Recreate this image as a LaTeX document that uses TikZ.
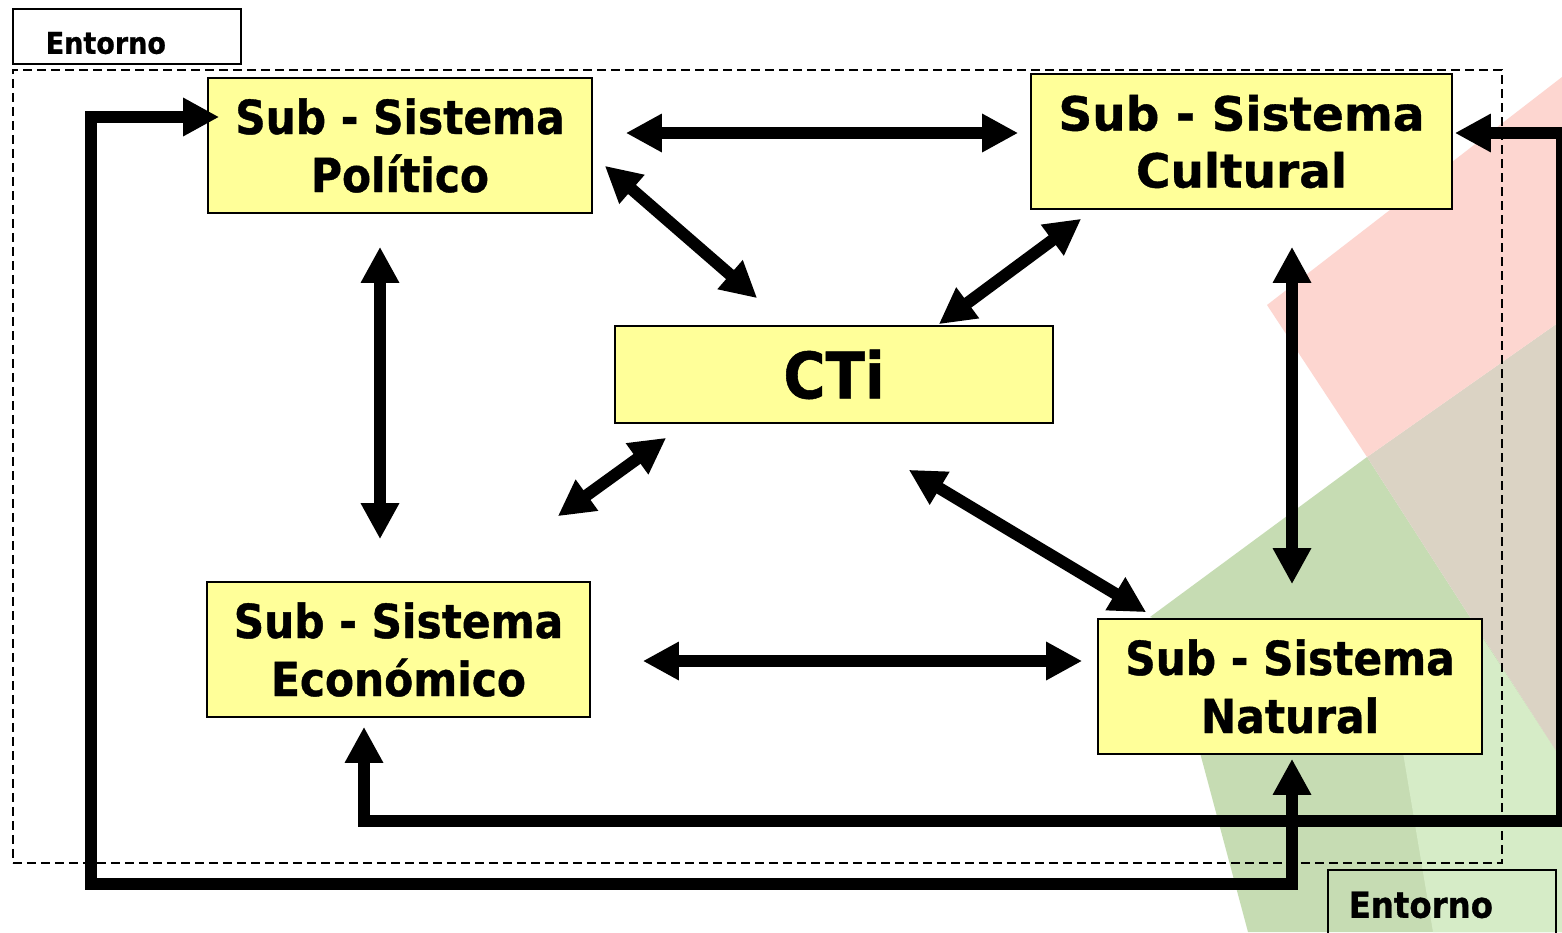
\documentclass[tikz,border=0pt]{standalone}
\usepackage{fontspec}
\newfontfamily\verd{DejaVu Sans}[FakeBold=0.8]
\newfontfamily\tah{DejaVu Sans}[FakeStretch=0.9,FakeBold=0.8]
\usetikzlibrary{arrows.meta}
\definecolor{boxfill}{HTML}{FFFF99}
\definecolor{bgpink}{HTML}{FDD6D0}
\definecolor{bgbrown}{HTML}{DBD3C4}
\definecolor{bgdgreen}{HTML}{C6DCB3}
\definecolor{bglgreen}{HTML}{D6ECC7}
\begin{document}
\begin{tikzpicture}[x=1pt,y=-1pt,
  sbox/.style={draw=black, line width=1.6pt, fill=boxfill, align=center, inner sep=0pt},
  tfont/.style={font=\tah\bfseries\fontsize{47}{58}\selectfont},
  vfont/.style={font=\verd\bfseries\fontsize{47}{57}\selectfont},
  envbox/.style={draw=black, line width=1.5pt, anchor=north west, inner sep=0pt, align=left, text width=228pt},
  arr/.style={line width=12pt, {Triangle[length=36pt,width=36pt]}-{Triangle[length=36pt,width=36pt]}},
]
\useasboundingbox (0,0) rectangle (1562,932);
\clip (0,0) rectangle (1562,932);
\fill[white] (0,0) rectangle (1562,932);

% background logo shapes
\fill[bgdgreen] (1150,617) -- (1367,457) -- (1562,760) -- (1562,932) -- (1248,932) -- (1165,622) -- cycle;
\fill[bglgreen] (1395,705) -- (1480,634) -- (1562,760) -- (1562,932) -- (1433,932) -- cycle;
\fill[bgbrown] (1367,457) -- (1562,320) -- (1562,760) -- cycle;
\fill[bgpink] (1267,305) -- (1562,77) -- (1562,320) -- (1367,457) -- cycle;

% environment
\node[draw=black, line width=1.5pt, dash pattern=on 9pt off 5pt, anchor=north west,
      minimum width=1489pt, minimum height=793pt, inner sep=0pt] (env) at (12,69) {};
\node[envbox, minimum height=55pt, text height=35pt, text depth=0pt,
      font=\tah\bfseries\fontsize{30}{36}\selectfont] (ent1) at (12,8) {\hspace*{33pt}Entorno};
\node[envbox, minimum height=76pt, text height=20pt, text depth=0pt,
      font=\tah\bfseries\fontsize{36}{42}\selectfont] (ent2) at (1327,869) {\hspace*{21pt}Entorno};

% subsystems
\node[sbox, tfont, minimum width=384pt, minimum height=135pt] (pol) at (400,145.5) {Sub - Sistema\\Político};
\node[sbox, vfont, minimum width=421pt, minimum height=135pt] (cul) at (1241.5,141.5) {Sub - Sistema\\Cultural};
\node[sbox, tfont, minimum width=383pt, minimum height=135pt] (eco) at (398.5,649.5) {Sub - Sistema\\Económico};
\node[sbox, tfont, minimum width=384pt, minimum height=135pt] (nat) at (1290,686.5) {Sub - Sistema\\Natural};
\node[sbox, font=\tah\bfseries\fontsize{64}{70}\selectfont, minimum width=438pt, minimum height=97pt] (cti) at (834,374.5) {CTi};

% arrows between subsystems
\draw[arr] ([shift={(33,-12.5)}]pol.east) -- ([shift={(-12,-8.5)}]cul.west);
\draw[arr] ([shift={(12,-48)}]pol.south east) -- ([shift={(143,-27)}]cti.north west);
\draw[arr] ([shift={(51,9)}]cul.south west) -- ([shift={(-115,-1)}]cti.north east);
\draw[arr] ([shift={(-20,33)}]pol.south) -- ([shift={(-18.5,-42)}]eco.north);
\draw[arr] ([shift={(-33,-65)}]eco.north east) -- ([shift={(52,14)}]cti.south west);
\draw[arr] ([shift={(-145,46)}]cti.south east) -- ([shift={(49,-6)}]nat.north west);
\draw[arr] ([shift={(50.5,37)}]cul.south) -- ([shift={(2,-34)}]nat.north);
\draw[arr] ([shift={(52,11.5)}]eco.east) -- ([shift={(-15,-25.5)}]nat.west);

% feedback loops
\coordinate (l1a) at (91,117);
\coordinate (l1b) at (91,884);
\coordinate (l1c) at (1292,884);
\draw[arr] ([shift={(12,-28.5)}]pol.west) -- (l1a) -- (l1b) -- (l1c) -- ([shift={(2,4)}]nat.south);

\coordinate (l2a) at (1562,133);
\coordinate (l2b) at (1562,821);
\coordinate (l2c) at (364,821);
\draw[arr] ([shift={(2,-8.5)}]cul.east) -- (l2a) -- (l2b) -- (l2c) -- ([shift={(-34.5,9)}]eco.south);
\end{tikzpicture}
\end{document}
